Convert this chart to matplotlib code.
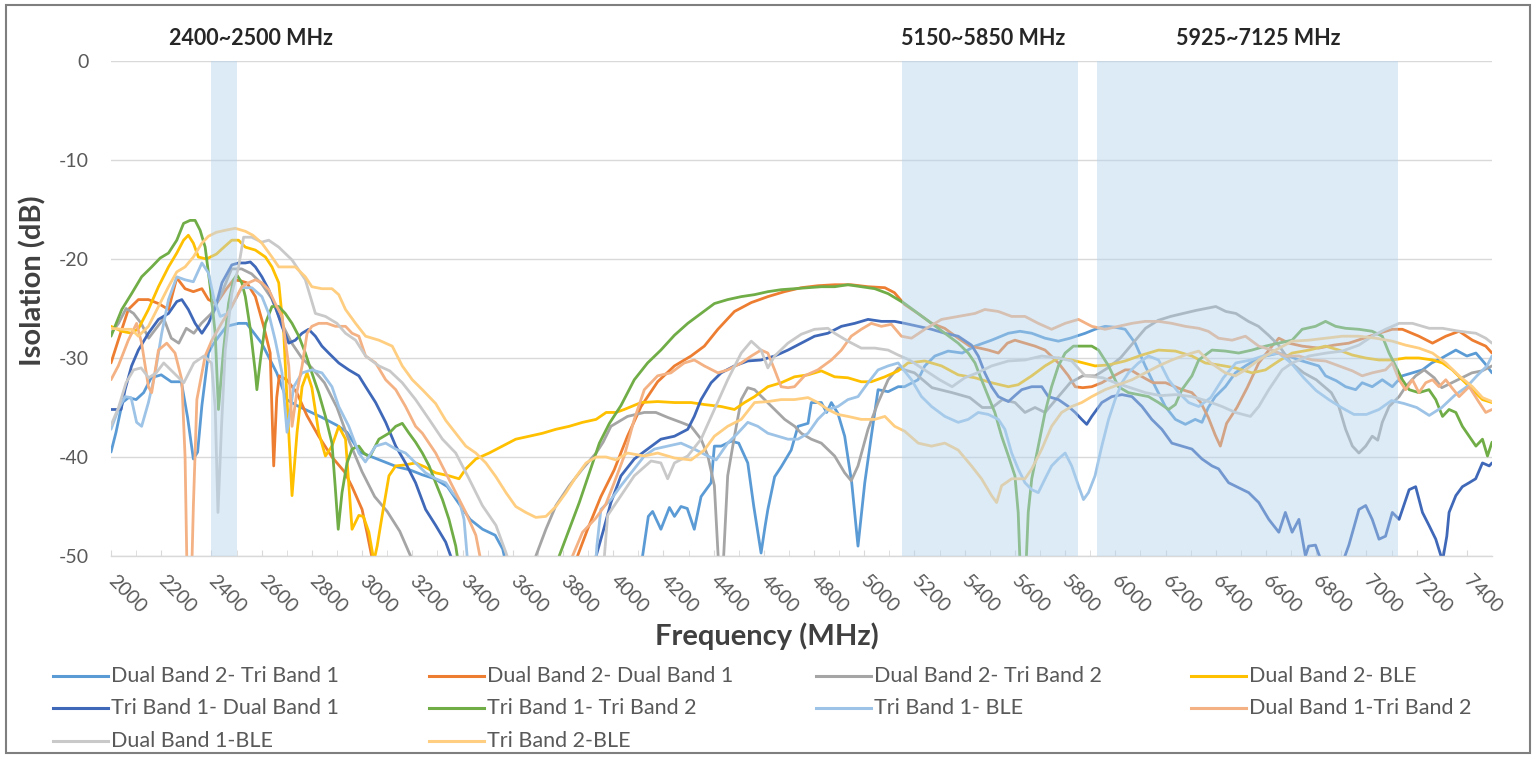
import matplotlib
matplotlib.use("Agg")
import matplotlib.pyplot as plt
from matplotlib.lines import Line2D
from matplotlib.patches import Rectangle

plt.rcParams['font.family'] = ['Lato', 'DejaVu Sans']

# (MHz, dB) pairs; values below -50 are off the chart
db2_tb1 = [(2000, -39.5), (2020, -37.5), (2045, -34.5), (2070, -34), (2100, -34.2), (2130, -33.5), (2160, -32),
           (2200, -31.7), (2240, -32.4), (2280, -32.4), (2305, -36), (2328, -40.2), (2345, -39.5), (2362, -34.8),
           (2388, -29.5), (2402, -28.8), (2430, -27.8), (2460, -26.8), (2508, -26.5), (2540, -26.5), (2570, -27.5),
           (2600, -28.5), (2630, -30), (2660, -31.5), (2700, -34.2), (2740, -34.8), (2790, -35.4), (2840, -36),
           (2900, -36.8), (2940, -37.5), (2990, -39.5), (3040, -40), (3090, -40.5), (3140, -41), (3190, -41.3),
           (3240, -41.8), (3290, -42.2), (3340, -43), (3380, -44.5), (3430, -46.3), (3480, -47.3), (3530, -47.9),
           (3560, -49.3), (3575, -51), (3600, -55), (4100, -55), (4117, -50), (4140, -46), (4157, -45.5),
           (4190, -47.3), (4224, -45.1), (4244, -46), (4270, -45), (4295, -45.2), (4323, -47.3), (4350, -44),
           (4390, -42.6), (4403, -38.9), (4430, -38.9), (4470, -38.4), (4500, -38.6), (4536, -40.6), (4560, -45),
           (4589, -49.7), (4605, -47), (4616, -45.3), (4643, -42), (4669, -41), (4709, -39.3), (4736, -36.9),
           (4776, -36.6), (4789, -34.5), (4829, -34.5), (4850, -35.5), (4869, -34.5), (4895, -35.6), (4922, -37.9),
           (4950, -42.6), (4975, -49), (5002, -42.6), (5028, -37.9), (5055, -33.2), (5095, -33.4), (5135, -32.9),
           (5160, -32.9), (5214, -32.2), (5241, -30.8), (5281, -29.8), (5334, -29.3), (5390, -29.5), (5441, -28.8),
           (5507, -28.2), (5574, -27.5), (5620, -27.3), (5667, -27.5), (5720, -28), (5773, -28.3), (5820, -28),
           (5880, -27.5), (5919, -27.1), (5959, -26.8), (6000, -26.9), (6039, -27.1), (6079, -28.5), (6119, -30.8),
           (6159, -32.9), (6199, -34.9), (6239, -36.2), (6279, -36.7), (6318, -36.2), (6345, -36.5), (6370, -35),
           (6398, -33.9), (6438, -32.9), (6478, -31.5), (6518, -30.8), (6558, -30.2), (6598, -29.8), (6651, -29.5),
           (6691, -29.8), (6731, -30.2), (6770, -30.5), (6810, -30.8), (6837, -31.8), (6880, -32.3), (6917, -32.9),
           (6957, -33.2), (6983, -32.5), (7023, -32.9), (7063, -32.2), (7103, -32.9), (7143, -31.8), (7183, -31.5),
           (7223, -31.2), (7260, -30.5), (7300, -30), (7356, -29.2), (7400, -29.8), (7436, -29.5), (7470, -30.5),
           (7500, -31.5)]

db2_db1 = [(2000, -30.5), (2029, -28.2), (2069, -25.1), (2109, -24.1), (2149, -24.1), (2189, -24.5), (2229, -25.1),
           (2262, -21.9), (2295, -23), (2328, -23.3), (2362, -23), (2388, -24.1), (2420, -24.5), (2460, -23),
           (2488, -22.1), (2515, -22.2), (2541, -22.4), (2575, -23.8), (2608, -26.8), (2634, -29.5), (2648, -40.9),
           (2660, -34), (2670, -31.8), (2700, -32.2), (2740, -33.5), (2780, -35.8), (2827, -37.9), (2880, -40),
           (2930, -41.5), (2960, -43), (3000, -45.3), (3020, -47.7), (3042, -50.5), (3060, -55), (3840, -55),
           (3858, -50), (3898, -47.3), (3951, -44), (4004, -41.3), (4057, -37.9), (4111, -34.9), (4177, -32.4),
           (4244, -30.8), (4310, -29.8), (4363, -28.8), (4417, -27.1), (4483, -25.3), (4550, -24.4), (4616, -23.8),
           (4682, -23.3), (4749, -22.9), (4815, -22.7), (4882, -22.6), (4948, -22.6), (5015, -22.8), (5082, -22.9),
           (5120, -23.4), (5161, -24.6), (5214, -25.5), (5268, -26.5), (5320, -27), (5374, -28), (5420, -28.8),
           (5460, -29), (5494, -29.2), (5534, -29.5), (5570, -28.5), (5600, -28.2), (5640, -28.5), (5680, -28.8),
           (5720, -29.2), (5773, -30.5), (5813, -31.8), (5840, -32.9), (5870, -33), (5906, -32.9), (5946, -32.5),
           (5980, -32), (6039, -31.2), (6061, -31.2), (6100, -31.8), (6150, -32.5), (6200, -32.5), (6266, -33.2),
           (6305, -33.5), (6340, -34.5), (6370, -36), (6398, -37.8), (6418, -38.9), (6443, -36.6), (6484, -35),
           (6525, -33), (6571, -30.5), (6624, -28.8), (6651, -28), (6691, -28.5), (6744, -28.8), (6810, -29),
           (6870, -28.7), (6930, -28.5), (6990, -28), (7050, -27.5), (7103, -27.1), (7143, -27.1), (7209, -27.8),
           (7263, -28.5), (7316, -27.8), (7369, -27.3), (7422, -28.2), (7475, -28.8), (7500, -29.5)]

db2_tb2 = [(2000, -27.5), (2030, -26.5), (2060, -25), (2090, -25.5), (2120, -26.5), (2150, -28), (2180, -27),
           (2210, -26), (2240, -28), (2270, -28.5), (2300, -27), (2330, -27.5), (2360, -26.5), (2400, -25.5),
           (2440, -23.5), (2480, -21), (2520, -21), (2560, -21.5), (2600, -22.5), (2640, -24), (2680, -26.5),
           (2720, -28.5), (2760, -30), (2800, -31), (2850, -32.5), (2900, -35), (2950, -38.5), (3000, -41.5),
           (3050, -44), (3100, -45.5), (3150, -47.5), (3193, -50), (3210, -55), (3670, -55), (3692, -50),
           (3732, -47.3), (3772, -44.9), (3825, -42.9), (3878, -41.2), (3932, -39.6), (3960, -38.5), (3991, -36.9),
           (4057, -35.9), (4124, -35.5), (4170, -35.5), (4217, -36), (4270, -36.5), (4310, -36.9), (4350, -38.2),
           (4377, -39.9), (4403, -42.9), (4418, -50), (4425, -55), (4432, -55), (4440, -50), (4456, -41.9),
           (4483, -37.9), (4510, -34.2), (4536, -33), (4563, -33.2), (4603, -34.2), (4643, -35.2), (4683, -36.2),
           (4723, -36.9), (4749, -37.6), (4789, -38.2), (4829, -38.6), (4882, -39.9), (4922, -41.6), (4948, -42.4),
           (4975, -40.9), (5015, -37.2), (5055, -34.5), (5095, -32.2), (5135, -31), (5200, -31.5), (5270, -33),
           (5350, -33.5), (5420, -34), (5470, -35), (5510, -35), (5550, -34.2), (5600, -34.5), (5640, -35.5),
           (5680, -35), (5720, -35.5), (5770, -34), (5820, -32.5), (5870, -31.8), (5920, -31.8), (5970, -31),
           (6020, -30), (6070, -28.5), (6120, -27), (6170, -26.2), (6220, -25.8), (6270, -25.5), (6320, -25.2),
           (6360, -25), (6400, -24.8), (6440, -25.3), (6480, -25.5), (6530, -26.3), (6570, -26.8), (6610, -27.7),
           (6650, -28.7), (6700, -30.5), (6750, -31.5), (6800, -32.2), (6860, -33.5), (6890, -34.9), (6917, -37.2),
           (6944, -38.9), (6970, -39.6), (6997, -38.9), (7023, -37.9), (7045, -38.3), (7063, -36.5), (7090, -34.9),
           (7130, -33.9), (7156, -32.9), (7196, -31.8), (7230, -31.2), (7270, -32), (7300, -33), (7340, -32.5),
           (7380, -32), (7420, -31.5), (7460, -31.3), (7500, -30.8)]

db2_ble = [(2000, -26.8), (2043, -27.3), (2082, -27.5), (2110, -27), (2149, -25.1), (2189, -22.8), (2229, -20.8),
           (2262, -19.4), (2289, -18.1), (2308, -17.6), (2328, -18.4), (2348, -19.8), (2380, -20), (2420, -19.5),
           (2450, -18.8), (2481, -18.1), (2508, -18.1), (2535, -18.8), (2575, -19.1), (2615, -19.8), (2641, -20.8),
           (2668, -22.4), (2688, -27.5), (2701, -34.2), (2721, -43.9), (2741, -37.5), (2761, -32.9), (2781, -31.5),
           (2800, -33), (2827, -37.5), (2854, -39.9), (2880, -38.9), (2907, -36.9), (2934, -38.2), (2960, -47.3),
           (2987, -45.9), (3005, -46), (3027, -47.6), (3047, -50.5), (3060, -49), (3080, -45.9), (3107, -41.9),
           (3134, -40.9), (3170, -40.8), (3213, -40.6), (3250, -41), (3293, -41.6), (3346, -41.9), (3386, -42.2),
           (3413, -41.2), (3453, -40.2), (3506, -39.6), (3559, -38.9), (3612, -38.2), (3666, -37.9), (3719, -37.6),
           (3772, -37.2), (3825, -36.9), (3878, -36.5), (3932, -36.2), (3972, -35.5), (4011, -35.5), (4044, -35.2),
           (4111, -34.5), (4177, -34.4), (4244, -34.5), (4310, -34.5), (4363, -34.7), (4430, -34.9), (4483, -35.2),
           (4523, -34.5), (4563, -33.9), (4616, -32.9), (4669, -32.5), (4722, -31.9), (4776, -31.7), (4829, -31.3),
           (4882, -31.9), (4935, -32), (4988, -32.4), (5028, -32.4), (5082, -31.9), (5135, -31.3), (5174, -30.5),
           (5241, -30.3), (5308, -30.8), (5374, -31.7), (5441, -32), (5507, -32.5), (5574, -32.9), (5613, -32.7),
           (5667, -31.8), (5720, -30.8), (5773, -30), (5826, -30.2), (5873, -30.5), (5919, -30.8), (5973, -30.7),
           (6039, -30.3), (6106, -29.7), (6172, -29.2), (6239, -29.3), (6305, -29.8), (6358, -30.5), (6411, -30.7),
           (6478, -31), (6544, -31.5), (6598, -31.2), (6651, -30.3), (6704, -29.5), (6771, -29.2), (6837, -28.8),
           (6890, -29.2), (6944, -29.7), (6997, -30), (7050, -30.2), (7103, -30.2), (7156, -30), (7209, -30),
           (7263, -30.2), (7303, -30.5), (7342, -31.2), (7382, -32.2), (7422, -33.2), (7462, -34.2), (7500, -34.5)]

tb1_db1 = [(2000, -35.2), (2040, -35.2), (2056, -33.2), (2082, -30.8), (2109, -29.2), (2149, -27.5), (2189, -26.1),
           (2229, -25.5), (2262, -24.3), (2282, -24.1), (2308, -25.1), (2335, -26.5), (2362, -27.5), (2388, -26.5),
           (2415, -25), (2442, -22.4), (2481, -20.6), (2508, -20.4), (2535, -20.4), (2555, -20.3), (2575, -20.8),
           (2601, -21.8), (2628, -23.1), (2654, -24.8), (2681, -26.8), (2708, -28.5), (2734, -28.2), (2761, -27.5),
           (2787, -27.1), (2814, -27.8), (2840, -28.8), (2867, -29.5), (2907, -30.5), (2947, -31.2), (2987, -31.8),
           (3014, -32.9), (3054, -34.5), (3094, -36.5), (3134, -38.9), (3173, -40.6), (3213, -42.6), (3253, -45.3),
           (3293, -46.9), (3333, -48.6), (3360, -50.5), (3380, -55), (3910, -55), (3932, -50), (3960, -47.5),
           (3991, -44.6), (4031, -41.9), (4084, -40.2), (4137, -39.2), (4190, -38.2), (4244, -37.9), (4297, -37.2),
           (4323, -35.9), (4350, -34.2), (4390, -32.5), (4430, -31.5), (4483, -30.8), (4536, -30.3), (4589, -30.2),
           (4643, -29.8), (4696, -29.2), (4749, -28.5), (4802, -27.8), (4855, -27.5), (4909, -26.8), (4962, -26.5),
           (5015, -26.1), (5068, -26.3), (5121, -26.3), (5161, -26.5), (5214, -26.8), (5268, -27.1), (5321, -27.5),
           (5374, -27.8), (5427, -28.7), (5454, -29.8), (5480, -31.5), (5507, -32.9), (5534, -33.9), (5574, -34.4),
           (5600, -33.8), (5627, -33.2), (5667, -32.9), (5707, -32.9), (5733, -33.9), (5773, -34.2), (5813, -34.9),
           (5840, -35.5), (5866, -36.2), (5886, -36.7), (5906, -35.9), (5946, -34.5), (5986, -33.9), (6026, -33.7),
           (6066, -33.9), (6106, -34.9), (6145, -36.2), (6185, -37.2), (6225, -38.6), (6265, -38.9), (6305, -39.2),
           (6345, -40.2), (6385, -40.9), (6411, -41.2), (6451, -42.6), (6491, -43.1), (6531, -43.6), (6571, -44.6),
           (6611, -46.3), (6651, -47.6), (6677, -45.6), (6704, -47.6), (6731, -46.3), (6757, -50), (6770, -49),
           (6797, -48.9), (6820, -50.5), (6860, -52), (6900, -51), (6930, -48.9), (6970, -45.3), (6997, -44.9),
           (7023, -46.3), (7050, -48.3), (7076, -48), (7103, -45.6), (7130, -46.3), (7170, -43.3), (7196, -43),
           (7223, -45.6), (7249, -46.9), (7276, -48.3), (7303, -50.5), (7320, -48), (7329, -45.6), (7356, -43.9),
           (7382, -43), (7409, -42.6), (7435, -42.2), (7462, -40.6), (7489, -40.9), (7500, -40.6)]

tb1_tb2 = [(2000, -27.8), (2043, -25.1), (2082, -23.5), (2122, -21.8), (2162, -20.8), (2196, -19.9), (2229, -19.4),
           (2262, -18.1), (2289, -16.4), (2315, -16.1), (2335, -16.1), (2355, -17.1), (2375, -18.8), (2395, -22.8),
           (2415, -27.5), (2428, -35.2), (2448, -29.2), (2468, -24.5), (2488, -22.1), (2501, -21.6), (2521, -22.4),
           (2535, -23.8), (2555, -27.1), (2575, -31.5), (2581, -33.2), (2595, -30.2), (2615, -26.5), (2641, -24.8),
           (2668, -24.8), (2694, -25.5), (2721, -26.5), (2748, -27.8), (2774, -29.5), (2800, -31.5), (2827, -33.5),
           (2854, -35.9), (2880, -38.6), (2893, -43), (2905, -47.3), (2920, -43.6), (2940, -40.6), (2960, -39.2),
           (2987, -38.9), (3007, -39.6), (3030, -40), (3067, -38.2), (3107, -37.6), (3134, -36.9), (3160, -36.6),
           (3187, -37.6), (3213, -38.5), (3240, -39.6), (3267, -40.9), (3293, -42.6), (3320, -44.3), (3346, -46.3),
           (3373, -49), (3385, -51), (3400, -55), (3770, -55), (3785, -50), (3825, -47.3), (3865, -44.6),
           (3905, -41.6), (3945, -38.6), (3985, -36.6), (4031, -34.8), (4084, -32.2), (4137, -30.5), (4190, -29.2),
           (4244, -27.7), (4297, -26.5), (4350, -25.5), (4403, -24.5), (4456, -24.1), (4510, -23.8), (4563, -23.6),
           (4616, -23.3), (4669, -23.1), (4722, -23), (4775, -22.9), (4829, -22.8), (4882, -22.8), (4935, -22.6),
           (4988, -22.8), (5042, -23), (5095, -23.5), (5135, -24.1), (5161, -24.5), (5214, -25.5), (5268, -26.5),
           (5321, -27.5), (5374, -28.5), (5414, -29.5), (5441, -30.5), (5467, -32.2), (5494, -33.9), (5520, -35.5),
           (5547, -37.9), (5574, -39.9), (5600, -41.9), (5613, -45.6), (5620, -50.5), (5630, -55), (5645, -50.5),
           (5653, -45.6), (5667, -42.2), (5693, -38.9), (5720, -35.5), (5746, -32.9), (5773, -30.8), (5800, -29.5),
           (5833, -28.8), (5866, -28.8), (5906, -28.8), (5933, -29.2), (5973, -30.8), (6012, -32.9), (6052, -33.5),
           (6092, -33.7), (6132, -33.9), (6172, -34.5), (6212, -35.2), (6239, -34.7), (6265, -33.2), (6305, -31.8),
           (6332, -30.2), (6385, -29.2), (6438, -29.3), (6491, -29.5), (6544, -29.2), (6598, -28.8), (6650, -28.5),
           (6704, -28.2), (6744, -27.1), (6797, -26.8), (6837, -26.3), (6877, -26.8), (6917, -27), (6970, -27.1),
           (7023, -27.3), (7063, -27.8), (7090, -29.5), (7116, -30.8), (7143, -32.2), (7170, -33.2), (7209, -33.5),
           (7249, -33.2), (7276, -34.2), (7303, -35.9), (7329, -35.2), (7356, -35.5), (7382, -36.9), (7409, -37.9),
           (7436, -38.9), (7462, -38.2), (7482, -39.9), (7500, -38.5)]

tb1_ble = [(2000, -37.2), (2029, -35.2), (2056, -33.9), (2080, -34), (2102, -36.5), (2122, -36.9), (2149, -34.5),
           (2176, -31.5), (2202, -27.5), (2229, -24.1), (2262, -21.8), (2295, -22.1), (2328, -22.3), (2362, -20.4),
           (2388, -21.4), (2410, -24), (2435, -25.8), (2465, -25.5), (2495, -24.1), (2521, -22.9), (2561, -22.9),
           (2601, -23.8), (2628, -25.5), (2654, -28.2), (2681, -31.5), (2701, -37.5), (2728, -32.9), (2761, -31.5),
           (2800, -31.2), (2840, -31.5), (2880, -32.9), (2907, -34.9), (2947, -36.9), (2987, -39.6), (3013, -40.5),
           (3054, -38.9), (3094, -38.6), (3134, -39.2), (3173, -39.6), (3213, -40.6), (3253, -41.6), (3293, -42.2),
           (3333, -42.6), (3360, -43.6), (3386, -44.3), (3406, -46.3), (3420, -50.5), (3435, -55), (3920, -55),
           (3935, -49), (3951, -45.3), (3991, -44.3), (4031, -42.9), (4084, -41.2), (4124, -39.9), (4164, -39.2),
           (4217, -38.9), (4270, -38.6), (4323, -39.2), (4377, -39.9), (4410, -40.3), (4456, -38.6), (4496, -37.6),
           (4536, -36.5), (4576, -36.9), (4616, -37.6), (4656, -37.9), (4696, -38.2), (4736, -38.2), (4776, -37.6),
           (4815, -36.2), (4855, -35.2), (4895, -34.9), (4935, -34.2), (4975, -33.9), (5015, -32.5), (5055, -31.2),
           (5095, -30.8), (5135, -30.5), (5188, -32.2), (5228, -33.9), (5268, -34.9), (5321, -35.9), (5374, -36.5),
           (5414, -36.2), (5454, -35.5), (5494, -35.7), (5534, -36.2), (5560, -37.2), (5587, -39.6), (5613, -41.2),
           (5640, -42.6), (5667, -43.3), (5693, -43.6), (5720, -42.2), (5746, -40.9), (5773, -40.2), (5800, -39.6),
           (5826, -40.9), (5853, -42.9), (5873, -44.3), (5893, -43.6), (5919, -41.9), (5946, -38.9), (5973, -36.2),
           (5999, -34.2), (6026, -32.5), (6052, -31.5), (6092, -30.5), (6132, -29.8), (6172, -30.2), (6212, -32.2),
           (6252, -33.5), (6292, -34.5), (6332, -34.9), (6380, -34), (6430, -32), (6480, -30.5), (6540, -30.2),
           (6600, -29.7), (6650, -29.5), (6700, -30.5), (6750, -32), (6800, -33.3), (6850, -34.2), (6900, -35),
           (6950, -35.7), (7000, -35.7), (7050, -35.2), (7100, -34.3), (7150, -34.6), (7200, -35), (7250, -35.8),
           (7300, -35), (7350, -33.8), (7400, -32.9), (7440, -31.8), (7480, -30.8), (7500, -29.8)]

db1_tb2 = [(2000, -32.2), (2029, -30.8), (2069, -28.2), (2102, -26.5), (2122, -28.5), (2149, -32.9), (2162, -33.5),
           (2189, -29.2), (2222, -28.5), (2255, -29.5), (2282, -32.2), (2295, -40), (2302, -50.5), (2310, -55),
           (2318, -55), (2328, -45), (2342, -34.2), (2375, -29.8), (2402, -28.2), (2440, -26.5), (2481, -24.8),
           (2521, -22.8), (2548, -22.4), (2575, -22.1), (2601, -22.4), (2628, -23.1), (2654, -24.5), (2681, -25.8),
           (2708, -30.8), (2721, -36.9), (2740, -33.5), (2761, -30.8), (2781, -27.5), (2800, -26.8), (2827, -26.5),
           (2860, -26.5), (2894, -26.8), (2934, -26.8), (2960, -27.5), (2987, -27.8), (3014, -29.8), (3054, -30.5),
           (3094, -32.2), (3134, -33.2), (3173, -34.9), (3213, -36.9), (3240, -37.6), (3293, -39.6), (3333, -41.6),
           (3373, -43.6), (3413, -45.6), (3453, -47.9), (3473, -50.5), (3490, -55), (3820, -55), (3838, -50),
           (3878, -47.6), (3930, -46.2), (3970, -44.8), (4004, -42.6), (4044, -39.9), (4084, -36.2), (4124, -33.2),
           (4177, -31.8), (4230, -31.5), (4283, -30.5), (4323, -30.2), (4363, -30.8), (4417, -31.5), (4456, -31.2),
           (4510, -30.5), (4550, -29.8), (4589, -29.2), (4616, -29.5), (4643, -31.2), (4669, -32.9), (4696, -33),
           (4722, -32.9), (4762, -31.8), (4815, -31.2), (4869, -30.2), (4909, -29.2), (4948, -27.8), (4988, -27.1),
           (5028, -26.5), (5068, -26.8), (5108, -26.6), (5148, -27.8), (5188, -28), (5241, -27.1), (5308, -26.1),
           (5374, -25.8), (5441, -25.5), (5480, -25.1), (5534, -25.3), (5587, -25.8), (5640, -25.8), (5693, -26.5),
           (5746, -27.1), (5800, -26.5), (5853, -26.1), (5906, -26.8), (5959, -27.1), (6012, -26.8), (6066, -26.5),
           (6119, -26.3), (6172, -26.3), (6225, -26.5), (6278, -26.8), (6332, -27), (6370, -27.3), (6411, -28),
           (6465, -28.2), (6518, -27.8), (6571, -28.8), (6624, -29.2), (6677, -29.8), (6731, -29.8), (6784, -30.2),
           (6837, -30.3), (6890, -30.8), (6944, -31.3), (6983, -31.8), (7023, -31.5), (7076, -31.2), (7103, -30.5),
           (7130, -32.2), (7156, -33.2), (7183, -32.2), (7209, -33.5), (7236, -32.5), (7263, -32.2), (7289, -32.9),
           (7316, -32.2), (7340, -33), (7369, -33.9), (7409, -32.9), (7449, -34.5), (7475, -35.5), (7500, -35.2)]

db1_ble = [(2000, -36.8), (2030, -35), (2060, -32.5), (2090, -31.2), (2120, -31), (2150, -32), (2180, -31.5),
           (2210, -30.5), (2250, -31.5), (2290, -32.5), (2330, -30.5), (2370, -29.8), (2400, -30.5), (2415, -35),
           (2426, -45.6), (2440, -37), (2455, -29.2), (2481, -23.5), (2508, -20.8), (2528, -17.8), (2560, -17.8),
           (2600, -18.3), (2628, -18.1), (2668, -18.8), (2721, -20.1), (2774, -22.1), (2814, -25.5), (2854, -25.8),
           (2900, -26.5), (2934, -27.5), (2974, -28.2), (3014, -29.8), (3067, -30.8), (3110, -31.3), (3160, -32.5),
           (3213, -34.2), (3267, -36.2), (3320, -38.2), (3373, -39.6), (3426, -42.2), (3479, -44.9), (3533, -46.9),
           (3572, -49.6), (3590, -51), (3610, -55), (3950, -55), (3965, -50), (3978, -45.9), (4031, -43.9),
           (4084, -41.9), (4151, -40.4), (4190, -40.6), (4217, -42.2), (4244, -40.6), (4297, -39.9), (4350, -38.2),
           (4403, -35.2), (4456, -32.2), (4510, -29.5), (4550, -28.3), (4589, -29.2), (4616, -31), (4643, -29.8),
           (4696, -28.5), (4749, -27.6), (4802, -27.1), (4855, -27), (4882, -27.5), (4935, -28.3), (4988, -29),
           (5042, -29), (5095, -29.2), (5135, -29.7), (5180, -30.2), (5240, -31.2), (5300, -32.2), (5350, -32.9),
           (5400, -32), (5450, -31.5), (5507, -30.8), (5574, -30.3), (5640, -30.2), (5707, -29.8), (5773, -30),
           (5826, -30.3), (5880, -31.8), (5950, -32), (6000, -32.5), (6060, -33), (6120, -33.5), (6180, -33.8),
           (6240, -33.7), (6305, -33.9), (6360, -34.3), (6425, -34.9), (6478, -35.5), (6538, -35.9), (6571, -34.9),
           (6611, -33.2), (6664, -31.2), (6704, -30.5), (6771, -29.8), (6840, -29.5), (6904, -29.3), (6970, -28.7),
           (7023, -27.8), (7076, -27.1), (7130, -26.5), (7183, -26.5), (7250, -27), (7303, -27), (7370, -27.3),
           (7436, -27.5), (7475, -28), (7500, -28.5)]

tb2_ble = [(2000, -27), (2043, -27.1), (2082, -27.1), (2109, -27.8), (2149, -26.8), (2189, -24.8), (2229, -22.8),
           (2262, -21.3), (2295, -20.8), (2328, -19.8), (2362, -18.4), (2388, -17.7), (2420, -17.3), (2455, -17.1),
           (2495, -16.9), (2535, -17.2), (2565, -17.6), (2601, -18.4), (2641, -19.8), (2668, -20.8), (2701, -20.8),
           (2734, -20.8), (2774, -21.8), (2800, -22.8), (2840, -23), (2880, -23), (2907, -23.6), (2934, -25.1),
           (2974, -26.5), (3014, -27.8), (3067, -28.2), (3120, -28.8), (3160, -30.8), (3200, -32.2), (3240, -33.2),
           (3293, -34.6), (3333, -36.3), (3373, -37.6), (3413, -38.9), (3453, -39.6), (3493, -40.6), (3533, -42),
           (3573, -43.6), (3612, -45), (3652, -45.6), (3692, -46.1), (3732, -46), (3772, -45), (3812, -43.6),
           (3852, -42), (3892, -40.6), (3932, -40), (3972, -40), (4011, -40.3), (4057, -39.6), (4124, -39.9),
           (4177, -39.6), (4244, -40.1), (4310, -40.3), (4363, -39.3), (4403, -37.9), (4456, -36.9), (4510, -36.2),
           (4563, -34.5), (4616, -34.4), (4669, -34.2), (4722, -34.2), (4776, -34), (4815, -34.5), (4855, -35.2),
           (4895, -35.7), (4935, -35.9), (4988, -36.2), (5042, -36.2), (5082, -35.9), (5121, -36.9), (5161, -37.4),
           (5215, -38.6), (5268, -38.9), (5321, -38.6), (5374, -39.3), (5427, -40.9), (5467, -42.2), (5507, -43.9),
           (5527, -44.6), (5547, -42.9), (5587, -42.2), (5640, -42.2), (5667, -41.2), (5707, -39.2), (5746, -36.9),
           (5786, -35.5), (5826, -34.9), (5866, -34.5), (5906, -33.9), (5959, -33.2), (6012, -32.7), (6066, -32.2),
           (6119, -31.5), (6172, -30.8), (6225, -30.2), (6278, -29.7), (6332, -29.3), (6380, -30.5), (6438, -31.5),
           (6478, -31.8), (6518, -31.2), (6571, -30.2), (6638, -29.2), (6704, -28.3), (6771, -28.2), (6837, -28),
           (6904, -27.8), (6970, -27.8), (7037, -28), (7103, -28.3), (7156, -28.7), (7209, -29), (7263, -29.5),
           (7316, -30.5), (7369, -31.8), (7422, -32.9), (7462, -34), (7500, -34.4)]

series_data = [db2_tb1, db2_db1, db2_tb2, db2_ble, tb1_db1, tb1_tb2, tb1_ble, db1_tb2, db1_ble, tb2_ble]
series_names = ["Dual Band 2- Tri Band 1", "Dual Band 2- Dual Band 1", "Dual Band 2- Tri Band 2",
                "Dual Band 2- BLE", "Tri Band 1- Dual Band 1", "Tri Band 1- Tri Band 2", "Tri Band 1- BLE",
                "Dual Band 1-Tri Band 2", "Dual Band 1-BLE", "Tri Band 2-BLE"]
series_colors = ["#5B9BD5", "#ED7D31", "#A5A5A5", "#FFC000", "#3F68B8", "#70AD47",
                 "#9DC3E6", "#F4B183", "#C9C9C9", "#FFCE80"]

bands = [(2400, 2500), (5150, 5850), (5925, 7125)]
band_labels = ["2400~2500 MHz", "5150~5850 MHz", "5925~7125 MHz"]
band_label_x = [2557, 5473, 6568]

yticks = [0, -10, -20, -30, -40, -50]
xticks = list(range(2000, 7401, 200))

W, H = 1536, 757
fig = plt.figure(figsize=(W / 100, H / 100), dpi=100)
ax = fig.add_axes([111 / W, 1 - 556 / H, (1492 - 111) / W, (556 - 61) / H])

for data, c in zip(series_data, series_colors):
    ax.plot([p[0] for p in data], [p[1] for p in data], color=c, lw=2.0,
            solid_joinstyle='round', solid_capstyle='round')

# shaded bands sit over the curves, like in the original
for lo, hi in bands:
    ax.axvspan(lo, hi, color='#B3D3ED', alpha=0.45, lw=0, zorder=5)

for lbl, x in zip(band_labels, band_label_x):
    ax.text(x, 2.3, lbl, ha='center', va='center', fontsize=15.5, fontweight='bold',
            color='#262626', clip_on=False)

ax.set_xlim(2000, 7500)
ax.set_ylim(-50, 0)
ax.set_yticks(yticks)
ax.set_yticklabels([str(v) for v in yticks])
ax.set_xticks(xticks)
ax.set_xticks(range(2100, 7500, 200), minor=True)
ax.set_xticklabels([str(v) for v in xticks], rotation=-45, ha='left', va='center',
                   rotation_mode='anchor')

ax.yaxis.grid(True, color='#D9D9D9', lw=1)
ax.set_axisbelow(True)
for s in ['top', 'right', 'left']:
    ax.spines[s].set_visible(False)
ax.spines['bottom'].set_color('#D9D9D9')
ax.spines['bottom'].set_linewidth(1)
ax.tick_params(axis='y', length=0, pad=16, labelsize=14, labelcolor='#595959')
ax.tick_params(axis='x', which='both', direction='in', length=4, color='#D9D9D9',
               pad=16, labelsize=14, labelcolor='#595959')

fig.text(767 / W, 1 - 636 / H, "Frequency (MHz)", ha='center', va='center', fontsize=21,
         fontweight='bold', color='#404040')
fig.text(33 / W, 1 - 281 / H, "Isolation (dB)", ha='center', va='center', rotation=90,
         fontsize=21, fontweight='bold', color='#404040')

# legend laid out like Excel: 4 equal columns, filled row by row
leg_x = [53, 429, 816, 1191]
leg_y = [676, 708, 741]
for i, (name, c) in enumerate(zip(series_names, series_colors)):
    x0 = leg_x[i % 4]
    y0 = 1 - leg_y[i // 4] / H
    fig.add_artist(Line2D([x0 / W, (x0 + 55) / W], [y0, y0], color=c, lw=2.2,
                          transform=fig.transFigure))
    fig.text((x0 + 58) / W, y0, name, ha='left', va='center', fontsize=15.5, color='#595959')

fig.add_artist(Rectangle((6 / W, 1 - 753 / H), (1530 - 6) / W, (753 - 5) / H, fill=False,
                         edgecolor='#7F7F7F', lw=1.5, transform=fig.transFigure))

fig.savefig("out.png", dpi=100)
